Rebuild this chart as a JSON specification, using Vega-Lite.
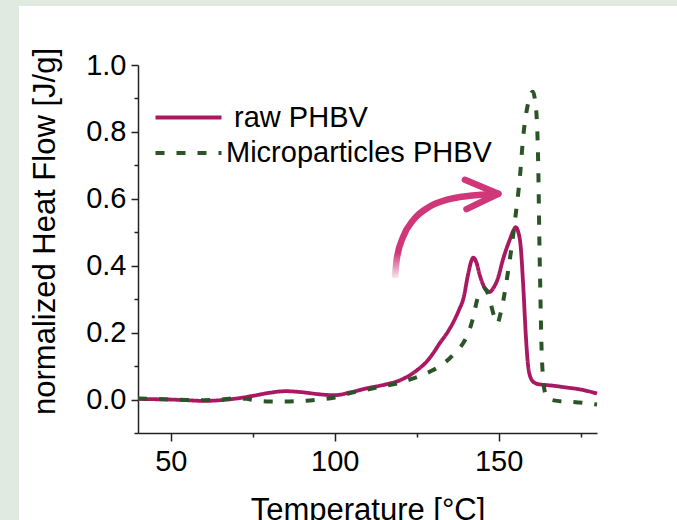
{
  "$schema": "https://vega.github.io/schema/vega-lite/v6.json",
  "width": 658,
  "height": 514,
  "autosize": {"type": "none"},
  "padding": {"left": 19, "top": 6, "right": 0, "bottom": 0},
  "background": "#e1eae1",
  "config": {
    "view": {"fill": "white", "stroke": null},
    "font": "Liberation Sans",
    "axis": {"grid": false, "domainColor": "#222", "tickColor": "#222", "domainWidth": 1.5, "tickWidth": 1.5, "labelColor": "black", "titleColor": "black", "titleFontWeight": "normal"}
  },
  "datasets": {
    "raw": [
      {"T": 40, "hf": 0.002, "series": "raw PHBV"}, {"T": 45, "hf": 0.001, "series": "raw PHBV"}, {"T": 50, "hf": 0.0, "series": "raw PHBV"}, {"T": 55, "hf": -0.002, "series": "raw PHBV"},
      {"T": 60, "hf": -0.004, "series": "raw PHBV"}, {"T": 65, "hf": -0.002, "series": "raw PHBV"}, {"T": 70, "hf": 0.003, "series": "raw PHBV"}, {"T": 75, "hf": 0.011, "series": "raw PHBV"},
      {"T": 80, "hf": 0.02, "series": "raw PHBV"}, {"T": 85, "hf": 0.025, "series": "raw PHBV"}, {"T": 90, "hf": 0.022, "series": "raw PHBV"}, {"T": 95, "hf": 0.016, "series": "raw PHBV"},
      {"T": 100, "hf": 0.013, "series": "raw PHBV"}, {"T": 105, "hf": 0.022, "series": "raw PHBV"}, {"T": 110, "hf": 0.034, "series": "raw PHBV"}, {"T": 115, "hf": 0.044, "series": "raw PHBV"},
      {"T": 120, "hf": 0.058, "series": "raw PHBV"}, {"T": 125, "hf": 0.087, "series": "raw PHBV"}, {"T": 128, "hf": 0.113, "series": "raw PHBV"}, {"T": 130, "hf": 0.138, "series": "raw PHBV"},
      {"T": 132, "hf": 0.168, "series": "raw PHBV"}, {"T": 134, "hf": 0.195, "series": "raw PHBV"}, {"T": 136, "hf": 0.228, "series": "raw PHBV"}, {"T": 138, "hf": 0.27, "series": "raw PHBV"},
      {"T": 139.2, "hf": 0.30, "series": "raw PHBV"}, {"T": 140.7, "hf": 0.375, "series": "raw PHBV"}, {"T": 141.7, "hf": 0.415, "series": "raw PHBV"}, {"T": 142.3, "hf": 0.424, "series": "raw PHBV"},
      {"T": 143.2, "hf": 0.41, "series": "raw PHBV"}, {"T": 144.3, "hf": 0.37, "series": "raw PHBV"}, {"T": 145.8, "hf": 0.333, "series": "raw PHBV"}, {"T": 147.3, "hf": 0.322, "series": "raw PHBV"},
      {"T": 148.5, "hf": 0.335, "series": "raw PHBV"}, {"T": 149.7, "hf": 0.36, "series": "raw PHBV"}, {"T": 151.3, "hf": 0.418, "series": "raw PHBV"}, {"T": 153.4, "hf": 0.478, "series": "raw PHBV"},
      {"T": 154.5, "hf": 0.505, "series": "raw PHBV"}, {"T": 155.2, "hf": 0.515, "series": "raw PHBV"}, {"T": 156, "hf": 0.5, "series": "raw PHBV"}, {"T": 156.7, "hf": 0.46, "series": "raw PHBV"},
      {"T": 157.5, "hf": 0.34, "series": "raw PHBV"}, {"T": 158.3, "hf": 0.19, "series": "raw PHBV"}, {"T": 159, "hf": 0.1, "series": "raw PHBV"}, {"T": 160, "hf": 0.06, "series": "raw PHBV"},
      {"T": 161, "hf": 0.05, "series": "raw PHBV"}, {"T": 162.1, "hf": 0.046, "series": "raw PHBV"}, {"T": 166, "hf": 0.042, "series": "raw PHBV"}, {"T": 170.7, "hf": 0.036, "series": "raw PHBV"},
      {"T": 175, "hf": 0.03, "series": "raw PHBV"}, {"T": 180, "hf": 0.018, "series": "raw PHBV"}
    ],
    "micro": [
      {"T": 40, "hf": 0.003, "series": "Microparticles PHBV"}, {"T": 45, "hf": 0.002, "series": "Microparticles PHBV"}, {"T": 50, "hf": 0.0, "series": "Microparticles PHBV"}, {"T": 55, "hf": -0.001, "series": "Microparticles PHBV"},
      {"T": 60, "hf": -0.002, "series": "Microparticles PHBV"}, {"T": 65, "hf": 0.0, "series": "Microparticles PHBV"}, {"T": 70, "hf": 0.004, "series": "Microparticles PHBV"}, {"T": 73, "hf": 0.002, "series": "Microparticles PHBV"},
      {"T": 76, "hf": -0.003, "series": "Microparticles PHBV"}, {"T": 80, "hf": -0.006, "series": "Microparticles PHBV"}, {"T": 85, "hf": -0.006, "series": "Microparticles PHBV"}, {"T": 90, "hf": -0.004, "series": "Microparticles PHBV"},
      {"T": 95, "hf": 0.0, "series": "Microparticles PHBV"}, {"T": 100, "hf": 0.006, "series": "Microparticles PHBV"}, {"T": 105, "hf": 0.02, "series": "Microparticles PHBV"}, {"T": 110, "hf": 0.03, "series": "Microparticles PHBV"},
      {"T": 115, "hf": 0.04, "series": "Microparticles PHBV"}, {"T": 119, "hf": 0.048, "series": "Microparticles PHBV"}, {"T": 123, "hf": 0.06, "series": "Microparticles PHBV"}, {"T": 127, "hf": 0.074, "series": "Microparticles PHBV"},
      {"T": 130, "hf": 0.088, "series": "Microparticles PHBV"}, {"T": 132, "hf": 0.1, "series": "Microparticles PHBV"}, {"T": 134, "hf": 0.114, "series": "Microparticles PHBV"}, {"T": 136.5, "hf": 0.138, "series": "Microparticles PHBV"},
      {"T": 139.2, "hf": 0.169, "series": "Microparticles PHBV"}, {"T": 141, "hf": 0.205, "series": "Microparticles PHBV"}, {"T": 142.3, "hf": 0.248, "series": "Microparticles PHBV"}, {"T": 143.5, "hf": 0.3, "series": "Microparticles PHBV"},
      {"T": 144.5, "hf": 0.325, "series": "Microparticles PHBV"}, {"T": 145.5, "hf": 0.333, "series": "Microparticles PHBV"}, {"T": 146.5, "hf": 0.322, "series": "Microparticles PHBV"}, {"T": 147.5, "hf": 0.29, "series": "Microparticles PHBV"},
      {"T": 148.6, "hf": 0.25, "series": "Microparticles PHBV"}, {"T": 149.6, "hf": 0.228, "series": "Microparticles PHBV"}, {"T": 150.6, "hf": 0.258, "series": "Microparticles PHBV"}, {"T": 151.5, "hf": 0.3, "series": "Microparticles PHBV"},
      {"T": 152.9, "hf": 0.385, "series": "Microparticles PHBV"}, {"T": 154, "hf": 0.46, "series": "Microparticles PHBV"}, {"T": 155, "hf": 0.537, "series": "Microparticles PHBV"}, {"T": 156.5, "hf": 0.667, "series": "Microparticles PHBV"},
      {"T": 157.5, "hf": 0.786, "series": "Microparticles PHBV"}, {"T": 159, "hf": 0.886, "series": "Microparticles PHBV"}, {"T": 160.4, "hf": 0.92, "series": "Microparticles PHBV"}, {"T": 161.3, "hf": 0.88, "series": "Microparticles PHBV"},
      {"T": 161.8, "hf": 0.8, "series": "Microparticles PHBV"}, {"T": 162.1, "hf": 0.69, "series": "Microparticles PHBV"}, {"T": 162.4, "hf": 0.49, "series": "Microparticles PHBV"}, {"T": 162.7, "hf": 0.33, "series": "Microparticles PHBV"},
      {"T": 163.1, "hf": 0.15, "series": "Microparticles PHBV"}, {"T": 163.6, "hf": 0.06, "series": "Microparticles PHBV"}, {"T": 164.2, "hf": 0.018, "series": "Microparticles PHBV"}, {"T": 165, "hf": 0.003, "series": "Microparticles PHBV"},
      {"T": 168.7, "hf": -0.005, "series": "Microparticles PHBV"}, {"T": 172, "hf": -0.007, "series": "Microparticles PHBV"}, {"T": 175.8, "hf": -0.01, "series": "Microparticles PHBV"}, {"T": 180, "hf": -0.015, "series": "Microparticles PHBV"}
    ],
    "arc": [
      {"T": 118.4, "hf": 0.363}, {"T": 118.9, "hf": 0.418}, {"T": 120.9, "hf": 0.487}, {"T": 124, "hf": 0.537},
      {"T": 129, "hf": 0.577}, {"T": 134.1, "hf": 0.597}, {"T": 141.2, "hf": 0.609}, {"T": 149.6, "hf": 0.615}
    ],
    "head": [
      {"T": 139.7, "hf": 0.657, "arm": "upper"}, {"T": 149.9, "hf": 0.615, "arm": "upper"},
      {"T": 140.2, "hf": 0.569, "arm": "lower"}, {"T": 149.9, "hf": 0.615, "arm": "lower"}
    ]
  },
  "layer": [
    {
      "data": {"name": "raw"},
      "mark": {"type": "line", "strokeWidth": 3.8, "interpolate": "monotone"},
      "encoding": {
        "x": {"field": "T", "type": "quantitative",
          "scale": {"domain": [40, 180], "range": [119, 578], "nice": false, "zero": false},
          "axis": {"orient": "bottom", "offset": -87, "values": [50, 100, 150], "tickSize": 8, "labelFontSize": 29, "labelPadding": 6, "title": "Temperature [°C]", "titleFontSize": 31, "titlePadding": 19}},
        "y": {"field": "hf", "type": "quantitative",
          "scale": {"domain": [-0.1, 1.0], "range": [427, 59], "nice": false, "zero": false},
          "axis": {"orient": "left", "offset": -119, "values": [0, 0.2, 0.4, 0.6, 0.8, 1.0], "format": ".1f", "tickSize": 7, "labelFontSize": 29, "labelPadding": 5, "title": "normalized Heat Flow [J/g]", "titleFontSize": 31, "titlePadding": 24, "titleY": 225}},
        "color": {"field": "series", "type": "nominal",
          "scale": {"domain": ["raw PHBV", "Microparticles PHBV"], "range": ["#a91860", "#2b5529"]},
          "legend": {"title": null, "orient": "none", "legendX": 155, "legendY": 97, "padding": 0, "labelFontSize": 29, "labelColor": "black", "labelLimit": 400, "symbolType": "M-3,0L3,0", "symbolSize": 484, "symbolStrokeWidth": 4, "labelOffset": 23, "rowPadding": 5.6, "labelExpr": "(datum.value == 'raw PHBV' ? '\u200b\u00a0' : '') + datum.label"}},
        "strokeDash": {"field": "series", "type": "nominal",
          "scale": {"domain": ["raw PHBV", "Microparticles PHBV"], "range": [[1, 0], [9, 12]]},
          "legend": {"title": null, "orient": "none", "legendX": 155, "legendY": 97, "padding": 0, "labelFontSize": 29, "labelColor": "black", "labelLimit": 400, "symbolType": "M-3,0L3,0", "symbolSize": 484, "symbolStrokeWidth": 4, "labelOffset": 23, "rowPadding": 5.6, "labelExpr": "(datum.value == 'raw PHBV' ? '\u200b\u00a0' : '') + datum.label"}}
      }
    },
    {
      "data": {"name": "micro"},
      "mark": {"type": "line", "strokeWidth": 4, "interpolate": "monotone"},
      "encoding": {
        "x": {"field": "T", "type": "quantitative", "scale": {"domain": [40, 180], "range": [119, 578], "nice": false, "zero": false}, "axis": null},
        "y": {"field": "hf", "type": "quantitative", "scale": {"domain": [-0.1, 1.0], "range": [427, 59], "nice": false, "zero": false}, "axis": null},
        "color": {"field": "series", "type": "nominal"},
        "strokeDash": {"field": "series", "type": "nominal"}
      }
    },
    {
      "data": {"name": "arc"},
      "mark": {"type": "line", "strokeWidth": 6.5, "strokeCap": "butt", "interpolate": "monotone",
        "stroke": {"gradient": "linear", "x1": 0, "y1": 1, "x2": 0, "y2": 0,
          "stops": [{"offset": 0, "color": "#f8e8ef"}, {"offset": 0.3, "color": "#cf3779"}, {"offset": 1, "color": "#cf3779"}]}},
      "encoding": {
        "x": {"field": "T", "type": "quantitative", "scale": {"domain": [40, 180], "range": [119, 578], "nice": false, "zero": false},
          "axis": {"orient": "bottom", "offset": -87, "values": [75, 125, 175], "tickSize": 4, "labels": false, "domain": false, "title": null}},
        "y": {"field": "hf", "type": "quantitative", "scale": {"domain": [-0.1, 1.0], "range": [427, 59], "nice": false, "zero": false},
          "axis": {"orient": "left", "offset": -119, "values": [-0.1, 0.1, 0.3, 0.5, 0.7, 0.9], "tickSize": 4, "labels": false, "domain": false, "title": null}}
      }
    },
    {
      "data": {"name": "head"},
      "mark": {"type": "line", "strokeWidth": 6.5, "strokeCap": "round", "color": "#cf3779"},
      "encoding": {
        "x": {"field": "T", "type": "quantitative", "scale": {"domain": [40, 180], "range": [119, 578], "nice": false, "zero": false}, "axis": null},
        "y": {"field": "hf", "type": "quantitative", "scale": {"domain": [-0.1, 1.0], "range": [427, 59], "nice": false, "zero": false}, "axis": null},
        "detail": {"field": "arm", "type": "nominal"}
      }
    }
  ],
  "resolve": {"axis": {"x": "independent", "y": "independent"}}
}
